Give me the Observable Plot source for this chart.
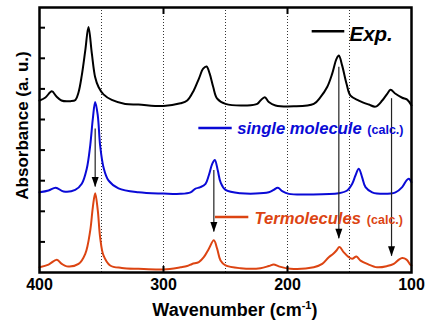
<!DOCTYPE html>
<html><head><meta charset="utf-8">
<script src="https://cdn.jsdelivr.net/npm/d3@7"></script>
<script src="https://cdn.jsdelivr.net/npm/@observablehq/plot@0.6"></script>
<style>body{margin:0;background:#fff} svg{display:block}</style>
</head><body><div id="chart"></div>
<script>
// ---- data ----
const expWn = [400,395.2,390.1,386.3,382.3,375,371,368.5,365.9,363.1,360.5,357.8,355.1,352.4,348.4,341.7,330.9,320.2,300,286.3,280.9,275.6,271.5,268,265.3,262.7,259.9,256.7,250,232.5,224.4,221.8,218.3,215.1,209.7,194.9,178.8,173.4,168,164,160.5,158.6,155.9,152.4,149.2,142.5,134.4,129,123.6,119.6,116.9,112.9,107.5,103.5,100];
const expAbs = [5.62,5.72,5.92,5.75,5.62,5.60,5.64,5.89,6.44,7.25,8.02,7.16,6.38,6.06,5.82,5.64,5.51,5.49,5.44,5.53,5.62,5.95,6.33,6.66,6.73,6.49,6.06,5.68,5.51,5.46,5.51,5.62,5.73,5.57,5.46,5.43,5.51,5.73,6.06,6.49,6.98,7.09,6.76,6.17,5.78,5.62,5.49,5.42,5.62,5.84,5.97,5.84,5.71,5.65,5.46];

const singleWn = [400,392.7,386.9,380.6,371.2,365.9,361.9,359.1,357,355.1,353,351.1,348.4,344.4,336.3,320.2,300,286.3,278.2,274.2,270.2,266.1,263.5,260.7,258.6,256.2,254,250,237.9,215.1,211.1,207.8,204.3,198.9,181.5,158.6,151.9,147.8,145.2,142.5,139.8,137.1,131.7,122.3,112.9,107.5,104,102.2,100];
const singleAbs = [2.62,2.68,2.77,2.65,2.70,2.90,3.39,4.15,5.02,5.57,5.13,4.15,3.44,3.01,2.75,2.62,2.58,2.57,2.62,2.74,2.79,2.90,3.17,3.55,3.68,3.33,2.95,2.70,2.59,2.62,2.70,2.77,2.66,2.57,2.55,2.59,2.68,2.90,3.17,3.39,3.11,2.79,2.62,2.57,2.62,2.79,3.01,3.06,2.95];

const termWn = [400,392.7,386,382.3,378,368.5,363.1,359.1,357,355.1,353,351.1,348.4,343,333.6,320.2,300,286.3,280.9,276.9,271.5,267.5,263.5,259.4,256.7,254,250,237.9,221.8,215.1,211.1,207,197.6,178.8,172,166.7,163.1,160.5,158.1,154.6,150.6,147.8,144.4,141.1,135.7,127.7,119.6,114.3,110.2,107.5,104,100.8,100];
const termAbs = [0.17,0.26,0.42,0.29,0.20,0.28,0.61,1.37,2.13,2.59,2.03,1.15,0.56,0.23,0.15,0.12,0.10,0.17,0.21,0.28,0.34,0.50,0.77,1.05,0.77,0.39,0.23,0.14,0.14,0.21,0.26,0.20,0.12,0.17,0.28,0.50,0.61,0.72,0.83,0.66,0.50,0.45,0.52,0.39,0.28,0.17,0.21,0.28,0.42,0.47,0.42,0.25,0.23];

const arrowWn = [355.1, 259.4, 158.6, 116.1];
const arrowFrom = [4.69, 3.33, 6.71, 5.68];
const arrowTo = [2.79, 1.32, 1.10, 0.53];

const xTickLabels = [400, 300, 200, 100];
const xInnerTicks = [300, 200];
const gridWn = [350, 300, 250, 200, 150];
const yTicks = [1, 2, 3, 4, 5, 6, 7, 8];

const seriesNames = ["Exp.", "single molecule", "Termolecules"];
const calcNote = "(calc.)";
const xLabel = "Wavenumber (cm";
const xLabelSup = "-1";
const yLabel = "Absorbance (a. u.)";

// ---- styling / layout ----
const font = '"Liberation Sans", Arial, Helvetica, sans-serif';
const colors = ["#000000", "#0a0ad6", "#dc4412"];
// legend layout (in data coordinates of the chart)
const legendLayout = [
  {x1: 180.1, x2: 153.8, y: 7.88, tx: 150.0, ty: 7.58, size: 20.5, calcX: null},
  {x1: 271.5, x2: 244.6, y: 4.72, tx: 240.6, ty: 4.53, size: 16.6, calcX: 135.6},
  {x1: 258.1, x2: 231.2, y: 1.81, tx: 226.6, ty: 1.59, size: 16.6, calcX: 136.0}
];

const rows = (wn, ab) => wn.map((w, i) => ({wn: w, a: ab[i]}));
const spectra = [rows(expWn, expAbs), rows(singleWn, singleAbs), rows(termWn, termAbs)];
const arrows = arrowWn.map((w, i) => ({wn: w, from: arrowFrom[i], to: arrowTo[i]}));
const legend = seriesNames.map((n, i) => ({name: n, color: colors[i], ...legendLayout[i]}));

const headDown = {draw(ctx) { ctx.moveTo(0, 0); ctx.lineTo(-3.5, -10); ctx.lineTo(3.5, -10); ctx.closePath(); }};

const plot = Plot.plot({
  width: 430, height: 323,
  marginLeft: 39, marginRight: 19, marginTop: 7, marginBottom: 51,
  style: {fontFamily: font, background: "#fff", color: "#000", overflow: "visible"},
  x: {domain: [400, 100], label: null},
  y: {domain: [0, 8.66], label: null},
  marks: [
    Plot.ruleX(gridWn, {x: d => d, stroke: "#333", strokeWidth: 1, strokeDasharray: "1,2"}),
    ...spectra.map((s, i) => Plot.line(s, {x: "wn", y: "a", stroke: colors[i], strokeWidth: 2, curve: "catmull-rom"})),
    Plot.ruleX(arrows, {x: "wn", y1: "from", y2: "to", stroke: "#222", strokeWidth: 1.2}),
    Plot.dot(arrows, {x: "wn", y: "to", symbol: headDown, r: 4, fill: "#000", stroke: "none"}),
    // legend
    Plot.ruleY(legend, {x1: "x1", x2: "x2", y: "y", stroke: "color", strokeWidth: 2.5}),
    ...legend.map(d => Plot.text([d], {x: "tx", y: "ty", text: "name", fill: "color", fontSize: d.size, fontWeight: "bold", fontStyle: "italic", textAnchor: "start", lineAnchor: "bottom"})),
    Plot.text(legend.filter(d => d.calcX != null), {x: "calcX", y: "ty", text: () => calcNote, fill: "color", fontSize: 12.5, fontWeight: "bold", textAnchor: "start", lineAnchor: "bottom"}),
    // axes
    Plot.axisX({ticks: xTickLabels, tickSize: 0, tickPadding: 6, fontSize: 16, fontWeight: "bold", label: null, tickFormat: d => String(d)}),
    Plot.axisX({anchor: "bottom", ticks: xInnerTicks, tickSize: -6, strokeWidth: 2, tickFormat: () => "", label: null}),
    Plot.axisX({anchor: "top", ticks: xInnerTicks, tickSize: -6, strokeWidth: 2, tickFormat: () => "", label: null}),
    Plot.axisY({ticks: yTicks, tickSize: -6, strokeWidth: 2, tickFormat: () => "", label: null}),
    Plot.text([yLabel], {text: d => d, frameAnchor: "left", rotate: -90, dx: -16.5, dy: -14.5, fontSize: 17, fontWeight: "bold", textAnchor: "middle", lineAnchor: "middle"}),
    Plot.frame({stroke: "#000", strokeWidth: 2.5})
  ]
});

document.getElementById("chart").appendChild(plot);

// x-axis title with a superscript
const svg = d3.select(plot);
const xs = plot.scale("x");
const t = svg.append("text")
  .attr("x", xs.apply(242)).attr("y", 316)
  .attr("text-anchor", "middle")
  .attr("font-family", font).attr("font-size", 18).attr("font-weight", "bold").attr("fill", "#000");
t.append("tspan").text(xLabel);
t.append("tspan").attr("font-size", 11).attr("dy", -7).text(xLabelSup);
t.append("tspan").attr("dy", 7).text(")");
</script>
</body></html>
